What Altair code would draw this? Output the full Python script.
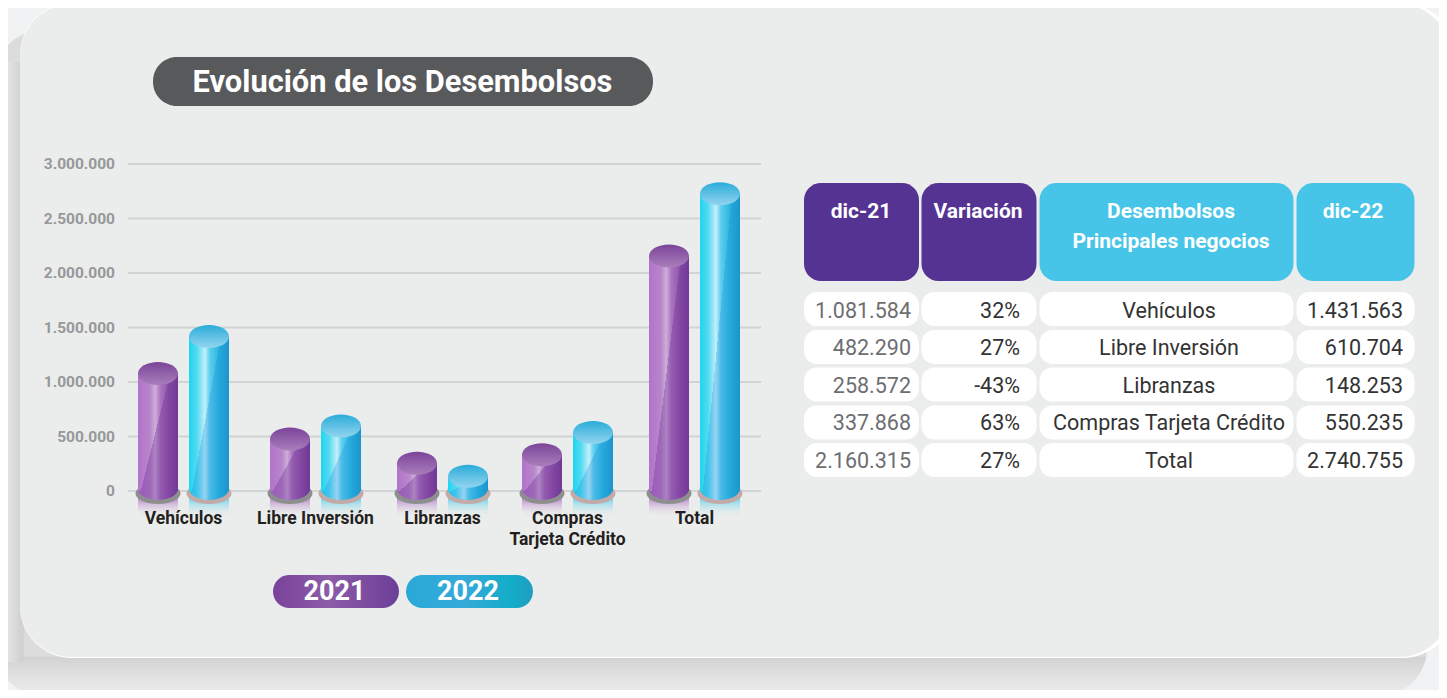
import altair as alt
import pandas as pd

# ---- data ----
categories = ["Vehículos", "Libre Inversión", "Libranzas", "Compras\nTarjeta Crédito", "Total"]
rank = [0, 1, 2, 3, 4]
values_2021 = [1081584, 482290, 258572, 337868, 2160315]
values_2022 = [1431563, 610704, 148253, 550235, 2740755]
y_ticks = [0, 500000, 1000000, 1500000, 2000000, 2500000, 3000000]
y_tick_labels = ["0", "500.000", "1.000.000", "1.500.000", "2.000.000", "2.500.000", "3.000.000"]

table_headers = ["dic-21", "Variación", "Desembolsos\nPrincipales negocios", "dic-22"]
col_dic21 = ["1.081.584", "482.290", "258.572", "337.868", "2.160.315"]
col_var = ["32%", "27%", "-43%", "63%", "27%"]
col_names = ["Vehículos", "Libre Inversión", "Libranzas", "Compras Tarjeta Crédito", "Total"]
col_dic22 = ["1.431.563", "610.704", "148.253", "550.235", "2.740.755"]

# ---- layout (page pixels; the chart starts 8px into the page) ----
W, H = 1431, 682
M = 8
FONT = "Roboto"
AX_X = [175.5, 307.5, 434.5, 559.5, 686.5]  # group centres, chart coordinates
one = alt.Data(values=[{"k": 1}])


def grad(stops, x1=0, y1=0, x2=1, y2=0):
    return alt.LinearGradient(
        gradient="linear", x1=x1, y1=y1, x2=x2, y2=y2,
        stops=[alt.GradientStop(offset=o, color=c) for o, c in stops],
    )


def box(x0, x1, y0, y1, fill, radius=0):
    return alt.Chart(one).mark_rect(fill=fill, cornerRadius=radius, opacity=1).encode(
        x=alt.value(x0 - M), x2=alt.value(x1 - M), y=alt.value(y0 - M), y2=alt.value(y1 - M)
    )


def label(txt, x, y, size, color, weight="normal", align="center", baseline="middle", lh=None):
    kw = {} if lh is None else {"lineHeight": lh}
    return alt.Chart(alt.Data(values=[{"t": txt}])).mark_text(
        font=FONT, fontSize=size, fontWeight=weight, color=color, align=align,
        baseline=baseline, lineBreak="\n", **kw
    ).encode(x=alt.value(x - M), y=alt.value(y - M), text="t:N")


layers = []

# ---- page, shadow, panel ----
layers.append(box(-5, 1427, 30, 696, grad(
    [(0, "#dcdcdc"), (0.94, "#dcdcdc"), (0.942, "#d2d2d2"), (0.975, "#e4e3e3"), (1, "#ececec")],
    x2=0, y2=1), 48))
layers.append(box(0, 24, 62, 662, grad([(0, "#ebebeb"), (0.5, "#dedede"), (0.85, "#d2d2d2"), (1, "#d2d2d2")])))
layers.append(box(20, 1455, 3, 658, "#ffffff", 52))
layers.append(box(20, 1451, 4, 657, "#ebedec", 52))

# ---- title pill ----
layers.append(box(153, 653, 57, 106, "#58595b", 24))
layers.append(label("Evolución de los Desembolsos", 402.5, 83, 30.8, "#ffffff", "bold"))

# ---- scales ----
df = pd.DataFrame({"cat": categories, "rank": rank, "v21": values_2021, "v22": values_2022})
x_enc = alt.X("rank:Q", axis=None, scale=alt.Scale(domain=rank, range=AX_X, zero=False, nice=False, padding=0))
y_scale = alt.Scale(domain=[0, 3000000], range=[483, 156], nice=False, zero=False)
y_enc = alt.Y("v:Q", scale=y_scale, axis=None)

# ---- gridlines and value labels ----
grid = pd.DataFrame({"v": y_ticks, "lab": y_tick_labels})
layers.append(alt.Chart(grid).mark_rule(color="#d1d3d4", strokeWidth=2).encode(
    x=alt.value(120), x2=alt.value(753), y=y_enc))
layers.append(alt.Chart(grid).mark_text(font=FONT, fontSize=15.5, fontWeight="bold", color="#97989a",
                                        align="right", baseline="middle").encode(
    x=alt.value(107), y=y_enc, text="lab:N"))

# ---- cylinders ----
ELL_TOP = "M-1,0A1,0.575,0,1,1,1,0A1,0.575,0,1,1,-1,0Z"
ELL_DISC = "M-1,0A1,0.465,0,1,1,1,0A1,0.465,0,1,1,-1,0Z"

series = [
    dict(field="v21", off=-25.5, dy=0.5,
         body=[(0, "#b273c9"), (0.3, "#b886cb"), (0.43, "#cdaed9"), (0.56, "#aa74c0"), (0.78, "#8f55a9"), (1, "#74409a")],
         shade="rgba(104,40,146,0.32)",
         cap=[(0, "#7b4499"), (1, "#a87ebb")], disc="#8d8f8f", refl="rgba(172,112,196,0.8)"),
    dict(field="v22", off=25.5, dy=1.5,
         body=[(0, "#1ed6ee"), (0.2, "#52daf2"), (0.4, "#c4effa"), (0.52, "#5ccfee"), (0.75, "#2bb6de"), (1, "#1e9cc4")],
         shade="rgba(20,130,216,0.26)",
         cap=[(0, "#2bacd9"), (1, "#93d4ef")], disc="#c2aaa9", refl="rgba(80,205,235,0.8)"),
]
for s in series:
    f, off, dy = s["field"], s["off"], s["dy"]
    base = alt.Chart(df)
    val = alt.Y(f + ":Q", scale=y_scale, axis=None)
    zero = alt.Y("zero:Q", scale=y_scale, axis=None)
    # reflection below the disc
    layers.append(base.mark_bar(size=40, xOffset=off, orient="vertical",
                                fill=grad([(0, s["refl"]), (1, "rgba(236,237,236,0)")], x2=0, y2=1)).encode(
        x=x_enc, y=alt.value(490), y2=alt.value(510)))
    # disc
    layers.append(base.mark_point(shape=ELL_DISC, size=2025, filled=True, fill=s["disc"], opacity=1,
                                  xOffset=off, yOffset=2.5, strokeWidth=0).encode(
        x=x_enc, y=zero).transform_calculate(zero="0"))
    # rounded bottom of the cylinder
    layers.append(base.mark_point(shape=ELL_TOP, size=1600, filled=True, fill=grad(s["body"]), opacity=1,
                                  xOffset=off, yOffset=-2.5, strokeWidth=0).encode(
        x=x_enc, y=zero).transform_calculate(zero="0"))
    layers.append(base.mark_point(shape=ELL_TOP, size=1600, filled=True, fill=s["shade"], opacity=1,
                                  xOffset=off, yOffset=-2.5, strokeWidth=0).encode(
        x=x_enc, y=zero).transform_calculate(zero="0"))
    # body
    layers.append(base.mark_bar(size=40, xOffset=off, yOffset=dy, orient="vertical", fill=grad(s["body"])).encode(
        x=x_enc, y=val, y2=alt.datum(0)))
    # diagonal sheen
    layers.append(base.mark_bar(size=40, xOffset=off, yOffset=dy, orient="vertical",
                                fill=grad([(0, "rgba(0,0,0,0)"), (0.522, "rgba(0,0,0,0)"),
                                           (0.523, s["shade"]), (1, s["shade"])], x2=1, y2=0.73)).encode(
        x=x_enc, y=val, y2=alt.datum(0)))
    # cap
    layers.append(base.mark_point(shape=ELL_TOP, size=1600, filled=True,
                                  fill=grad(s["cap"], x2=0, y2=1), opacity=1, xOffset=off, yOffset=dy,
                                  strokeWidth=0).encode(x=x_enc, y=val))

# ---- category labels ----
layers.append(alt.Chart(df).mark_text(font=FONT, fontSize=17.5, fontWeight="bold", color="#231f20",
                                      align="center", baseline="top", lineBreak="\n", lineHeight=21).encode(
    x=x_enc, y=alt.value(502), text="cat:N"))

# ---- legend pills ----
layers.append(box(273, 399, 575, 608, grad([(0, "#7a429b"), (0.45, "#8c5ca8"), (1, "#6c3e97")]), 16.5))
layers.append(box(406, 533, 575, 608, grad([(0, "#2aa9d6"), (0.45, "#35aad9"), (0.85, "#12acc8"), (1, "#229cc0")]), 16.5))
layers.append(label("2021", 334.5, 592, 27, "#ffffff", "bold"))
layers.append(label("2022", 468, 592, 27, "#ffffff", "bold"))

# ---- table ----
col_edges = [(804, 919), (921.5, 1036.5), (1039.5, 1293.5), (1296.5, 1414.5)]
head_fill = ["#543393", "#543393", "#47c5e8", "#47c5e8"]
head_cx = [861, 978, 1171, 1353]
for (x0, x1), c, txt, cx in zip(col_edges, head_fill, table_headers, head_cx):
    layers.append(box(x0, x1, 183, 281, c, 17))
    layers.append(label(txt, cx, 201, 21, "#ffffff", "bold", baseline="top", lh=30))

row_edges = [(292, 326), (330, 364), (367.5, 401.5), (405.5, 439.5), (443, 477)]
row_cy = [312, 349, 386.5, 424, 461.5]
columns = [
    (col_dic21, "#6d6e71", "right", 911),
    (col_var, "#333333", "right", 1020),
    (col_names, "#333333", "center", 1169),
    (col_dic22, "#333333", "right", 1403),
]
for (x0, x1) in col_edges:
    for (y0, y1) in row_edges:
        layers.append(box(x0, x1, y0, y1, "#ffffff", 13))
for vals, color, align, xp in columns:
    for v, cy in zip(vals, row_cy):
        layers.append(label(v, xp, cy, 21.5, color, "normal", align=align))

chart = alt.layer(*layers).properties(
    width=W, height=H, padding=0, autosize=alt.AutoSizeParams(type="none"),
    background="#f1f2f4",
).configure_view(strokeWidth=0)

chart.save("out.html", embed_options={"renderer": "svg", "actions": False})
